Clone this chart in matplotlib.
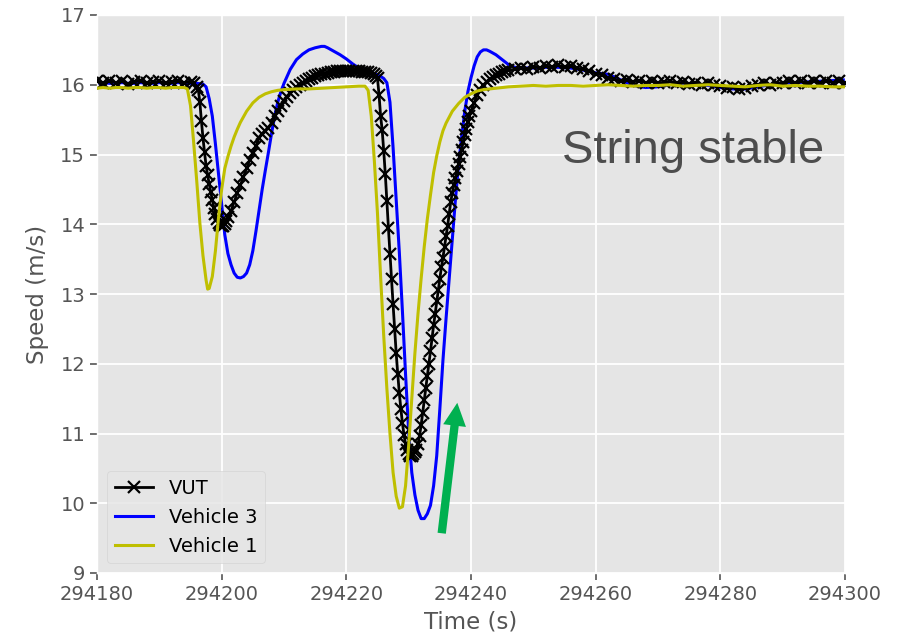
import matplotlib
matplotlib.use("Agg")
import matplotlib.pyplot as plt
from matplotlib.ticker import FixedLocator

plt.style.use("ggplot")

# ---------------- data ----------------
t_vut = [294180, 294181, 294182, 294183, 294184, 294185, 294186, 294187, 294188, 294189,
         294190, 294191, 294192, 294193, 294194, 294195, 294195.5, 294196, 294196.25, 294196.5,
         294196.75, 294197, 294197.25, 294197.5, 294197.75, 294198, 294198.25, 294198.5, 294198.75,
         294199, 294199.25, 294199.5, 294199.75, 294200, 294200.25, 294200.5, 294200.75, 294201,
         294201.5, 294202, 294202.5, 294203, 294203.5, 294204, 294204.5, 294205, 294205.5, 294206,
         294206.5, 294207, 294207.5, 294208, 294208.5, 294209, 294209.5, 294210, 294210.5, 294211,
         294211.5, 294212, 294212.5, 294213, 294213.5, 294214, 294214.5, 294215, 294215.5, 294216,
         294216.5, 294217, 294217.5, 294218, 294218.5, 294219, 294219.5, 294220, 294220.5, 294221,
         294221.5, 294222, 294222.5, 294223, 294223.5, 294224, 294224.5, 294224.75, 294225,
         294225.25, 294225.5, 294225.75, 294226, 294226.25, 294226.5, 294226.75, 294227, 294227.25,
         294227.5, 294227.75, 294228, 294228.25, 294228.5, 294228.75, 294229, 294229.25, 294229.5,
         294229.75, 294230, 294230.25, 294230.5, 294230.75, 294231, 294231.25, 294231.5, 294231.75,
         294232, 294232.25, 294232.5, 294232.75, 294233, 294233.25, 294233.5, 294233.75, 294234,
         294234.25, 294234.5, 294234.75, 294235, 294235.25, 294235.5, 294235.75, 294236, 294236.25,
         294236.5, 294236.75, 294237, 294237.25, 294237.5, 294237.75, 294238, 294238.25, 294238.5,
         294238.75, 294239, 294239.25, 294239.5, 294239.75, 294240, 294240.5, 294241, 294241.5,
         294242, 294242.5, 294243, 294243.5, 294244, 294244.5, 294245, 294245.5, 294246,
         294247, 294248, 294249, 294250, 294251, 294252, 294253, 294254, 294255, 294256, 294257,
         294258, 294259, 294260, 294261, 294262, 294263, 294264, 294265, 294266, 294267, 294268,
         294269, 294270, 294271, 294272, 294273, 294274, 294275, 294276, 294277, 294278, 294279,
         294280, 294281, 294282, 294283, 294284, 294285, 294286, 294287, 294288, 294289, 294290,
         294291, 294292, 294293, 294294, 294295, 294296, 294297, 294298, 294299, 294300]
v_vut = [16.05, 16.02, 16.06, 16.03, 16.05, 16.01, 16.04, 16.06, 16.02, 16.04,
         16.05, 16.02, 16.04, 16.06, 16.03, 16.04, 16.02, 15.97, 15.93, 15.75,
         15.48, 15.24, 15.03, 14.84, 14.70, 14.58, 14.46, 14.35, 14.24,
         14.15, 14.07, 14.02, 13.99, 13.98, 13.98, 14.01, 14.05, 14.10,
         14.19, 14.32, 14.45, 14.56, 14.68, 14.80, 14.92, 15.02, 15.12, 15.24,
         15.30, 15.34, 15.38, 15.45, 15.55, 15.63, 15.70, 15.77, 15.83, 15.88,
         15.93, 15.97, 16.00, 16.03, 16.06, 16.08, 16.10, 16.12, 16.14, 16.15,
         16.16, 16.17, 16.18, 16.18, 16.19, 16.19, 16.20, 16.19, 16.19, 16.19,
         16.19, 16.19, 16.18, 16.18, 16.18, 16.17, 16.15, 16.13, 16.09,
         15.85, 15.55, 15.35, 15.05, 14.72, 14.33, 13.95, 13.58, 13.22,
         12.85, 12.50, 12.15, 11.85, 11.58, 11.35, 11.15, 10.98, 10.85,
         10.76, 10.70, 10.68, 10.68, 10.70, 10.73, 10.77, 10.85, 10.97,
         11.12, 11.30, 11.48, 11.65, 11.83, 12.00, 12.18, 12.37, 12.55,
         12.72, 12.90, 13.06, 13.22, 13.38, 13.52, 13.68, 13.83, 13.98,
         14.15, 14.32, 14.45, 14.56, 14.66, 14.76, 14.86, 14.96, 15.07,
         15.18, 15.28, 15.37, 15.46, 15.55, 15.62, 15.74, 15.85, 15.93,
         15.99, 16.04, 16.08, 16.11, 16.14, 16.16, 16.18, 16.19, 16.21,
         16.22, 16.24, 16.22, 16.26, 16.24, 16.27, 16.25, 16.28, 16.25, 16.27, 16.24,
         16.22, 16.20, 16.16, 16.14, 16.10, 16.08, 16.05, 16.07, 16.04, 16.06, 16.03,
         16.05, 16.02, 16.04, 16.05, 16.02, 16.04, 16.01, 16.03, 16.00, 16.02, 15.99,
         15.98, 15.96, 15.97, 15.94, 15.96, 15.98, 16.00, 16.02, 16.00, 16.03, 16.02,
         16.05, 16.03, 16.05, 16.02, 16.05, 16.03, 16.06, 16.03, 16.05, 16.03]

t_v3 = [294180, 294181, 294182, 294183, 294184, 294185, 294186, 294187, 294188, 294189,
        294190, 294191, 294192, 294193, 294194, 294195, 294196, 294197, 294197.5, 294198,
        294198.5, 294199, 294199.5, 294200, 294200.5, 294201, 294201.5, 294202, 294202.5,
        294203, 294203.5, 294204, 294204.5, 294205, 294205.5, 294206, 294206.5, 294207,
        294207.5, 294208, 294208.5, 294209, 294209.5, 294210, 294210.5, 294211, 294212,
        294213, 294214, 294215, 294216, 294216.5, 294217, 294218, 294219, 294220, 294221,
        294222, 294223, 294224, 294225, 294225.5, 294226, 294226.5, 294227, 294227.5,
        294228, 294228.5, 294229, 294229.5, 294230, 294230.5, 294231, 294231.5, 294232,
        294232.5, 294233, 294233.5, 294234, 294234.5, 294235, 294235.5, 294236, 294236.5,
        294237, 294237.5, 294238, 294238.5, 294239, 294239.5, 294240, 294240.5, 294241,
        294241.5, 294242, 294242.5, 294243, 294244, 294245, 294246, 294247, 294248, 294250,
        294252, 294254, 294256, 294258, 294260, 294262, 294264, 294266, 294268, 294270,
        294272, 294274, 294276, 294278, 294280, 294282, 294284, 294286, 294288, 294290,
        294292, 294294, 294296, 294298, 294300]
v_v3 = [16.02, 16.03, 16.02, 16.02, 16.03, 16.02, 16.02, 16.03, 16.02, 16.02,
        16.03, 16.02, 16.02, 16.03, 16.02, 16.02, 16.02, 16.01, 15.97, 15.80,
        15.55, 15.15, 14.72, 14.30, 13.85, 13.58, 13.42, 13.30, 13.24,
        13.23, 13.25, 13.30, 13.42, 13.62, 13.90, 14.20, 14.50, 14.77,
        15.03, 15.30, 15.55, 15.75, 15.90, 16.02, 16.12, 16.22, 16.36,
        16.44, 16.50, 16.53, 16.55, 16.55, 16.53, 16.48, 16.43, 16.37, 16.30,
        16.24, 16.21, 16.18, 16.14, 16.12, 16.09, 16.03, 15.75, 15.10,
        14.35, 13.60, 12.75, 11.85, 11.02, 10.44, 10.12, 9.90, 9.78,
        9.78, 9.85, 9.97, 10.25, 10.68, 11.35, 12.05, 12.65, 13.22,
        13.80, 14.35, 14.85, 15.25, 15.62, 15.90, 16.10, 16.27, 16.40,
        16.47, 16.50, 16.50, 16.48, 16.43, 16.36, 16.29, 16.25, 16.24, 16.24,
        16.25, 16.25, 16.24, 16.21, 16.17, 16.15, 16.07, 15.99, 15.96, 15.97,
        16.00, 16.02, 16.01, 15.99, 15.96, 15.94, 15.94, 15.97, 16.00, 16.02,
        16.03, 16.04, 16.05, 16.06, 16.07]

t_v1 = [294180, 294181, 294182, 294183, 294184, 294185, 294186, 294187, 294188, 294189,
        294190, 294191, 294192, 294193, 294194, 294194.5, 294195, 294195.5, 294196, 294196.5,
        294197, 294197.5, 294197.75, 294198, 294198.5, 294199, 294199.5, 294200, 294200.5,
        294201, 294201.5, 294202, 294202.5, 294203, 294204, 294205, 294206, 294207, 294208,
        294209, 294210, 294212, 294214, 294216, 294218, 294220, 294222, 294223, 294223.5,
        294224, 294224.5, 294225, 294225.5, 294226, 294226.5, 294227, 294227.5, 294228,
        294228.5, 294229, 294229.5, 294230, 294230.5, 294231, 294231.5, 294232, 294232.5,
        294233, 294233.5, 294234, 294234.5, 294235, 294235.5, 294236, 294237, 294238,
        294239, 294240, 294241, 294242, 294244, 294246, 294248, 294250, 294252, 294254,
        294256, 294258, 294260, 294262, 294264, 294266, 294268, 294270, 294272, 294274,
        294276, 294278, 294280, 294282, 294284, 294286, 294288, 294290, 294292, 294294,
        294296, 294298, 294300]
v_v1 = [15.95, 15.96, 15.95, 15.96, 15.96, 15.95, 15.96, 15.96, 15.95, 15.96,
        15.96, 15.95, 15.96, 15.96, 15.96, 15.94, 15.70, 15.18, 14.62, 14.02,
        13.55, 13.20, 13.07, 13.08, 13.25, 13.62, 14.10, 14.50, 14.80,
        14.97, 15.12, 15.25, 15.36, 15.46, 15.62, 15.74, 15.82, 15.87, 15.90,
        15.92, 15.93, 15.94, 15.94, 15.95, 15.96, 15.97, 15.98, 15.98, 15.92,
        15.55, 14.90, 14.15, 13.25, 12.40, 11.65, 11.00, 10.44, 10.10,
        9.93, 9.95, 10.25, 10.83, 11.50, 12.15, 12.72, 13.22, 13.68,
        14.08, 14.42, 14.74, 14.98, 15.18, 15.34, 15.45, 15.62, 15.73,
        15.82, 15.87, 15.91, 15.93, 15.95, 15.97, 15.98, 15.99, 15.98, 15.99,
        15.99, 15.98, 15.99, 16.00, 15.99, 15.98, 15.99, 15.99, 16.00, 15.98,
        15.99, 16.00, 15.99, 15.98, 15.97, 15.99, 16.00, 15.98, 15.99, 15.98,
        15.98, 15.97, 15.97]

x_ticks = [294180, 294200, 294220, 294240, 294260, 294280, 294300]
y_ticks = [9, 10, 11, 12, 13, 14, 15, 16, 17]

# ---------------- figure ----------------
fig = plt.figure(figsize=(9, 6.39), dpi=100)
ax = fig.add_axes([97 / 900, 1 - 573 / 639, 748 / 900, 558 / 639])

ax.plot(t_v3, v_v3, color="blue", lw=2.2, label="Vehicle 3", zorder=2)
ax.plot(t_vut, v_vut, color="black", lw=2.0, marker="x", markersize=8,
        markeredgewidth=1.6, label="VUT", zorder=3)
ax.plot(t_v1, v_v1, color="#bfbf00", lw=2.2, label="Vehicle 1", zorder=4)

ax.set_xlim(294180, 294300)
ax.set_ylim(9, 17)
ax.xaxis.set_major_locator(FixedLocator(x_ticks))
ax.yaxis.set_major_locator(FixedLocator(y_ticks))
ax.ticklabel_format(useOffset=False, style="plain")
ax.tick_params(axis="both", labelsize=14, colors="#555555", length=5, width=1.2)
for lab in ax.get_xticklabels() + ax.get_yticklabels():
    lab.set_color("#555555")
ax.grid(True, color="white", lw=1.3)

ax.set_xlabel("Time (s)", fontsize=16.5, color="#555555", labelpad=5)
ax.set_ylabel("Speed (m/s)", fontsize=16.5, color="#555555", labelpad=8)

handles, labels = ax.get_legend_handles_labels()
order = [labels.index("VUT"), labels.index("Vehicle 3"), labels.index("Vehicle 1")]
leg = ax.legend([handles[i] for i in order], [labels[i] for i in order],
                loc="lower left", fontsize=14, framealpha=0.8,
                borderaxespad=0.5)
leg.get_frame().set_edgecolor("#d0d0d0")
for txt in leg.get_texts():
    txt.set_color("black")

ax.text(0.797, 0.7347, "String stable", transform=ax.transAxes, ha="center",
        va="baseline", fontsize=34, family="Liberation Sans", color="#4d4d4d")

ax.annotate("", xy=(294237.8, 11.44), xytext=(294235.3, 9.57),
            arrowprops=dict(arrowstyle="simple,head_length=1.65,head_width=1.65,tail_width=0.6",
                            mutation_scale=10, color="#00b050", shrinkA=0, shrinkB=0,
                            lw=0), zorder=6)

fig.savefig("out.png", dpi=100)
